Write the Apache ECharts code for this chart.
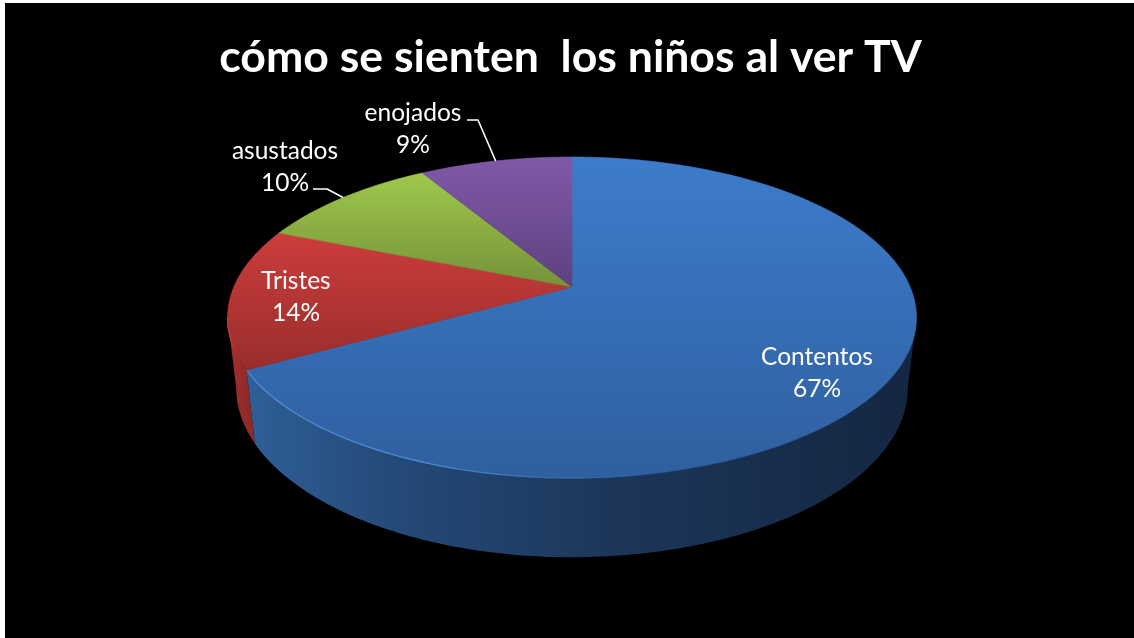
<!DOCTYPE html>
<html><head><meta charset="utf-8">
<style>html,body{margin:0;padding:0;background:#000}#c{width:1134px;height:638px}</style>
<script src="https://cdn.jsdelivr.net/npm/echarts@6/dist/echarts.min.js"></script>
</head><body><div id="c"></div>
<script>
const titleText = 'cómo se sienten  los niños al ver TV';
const categories = ['Contentos', 'Tristes', 'asustados', 'enojados'];
const values = [66.9, 14.2, 10.3, 8.6];

// styling and layout, by category index
const topColors = [['#3d7ccb','#2f5f9f'],['#cc3d3b','#992d2c'],['#9fc84c','#75923a'],['#8059a8','#5e417f']];
const rimColors = ['#4a88d4','#b83c39','#a8d05a','#8a64b2'];
const wallStops = [
  [[0,'#2f5f97'],[0.22,'#244a78'],[0.55,'#1c3659'],[0.85,'#172b49'],[1,'#142640']],
  [[0,'#a22f2d'],[1,'#8a2927']],
  [[0,'#76923a'],[1,'#76923a']],
  [[0,'#5e417f'],[1,'#5e417f']]
];
const labelCenters = [[817,373.5],[296,297.5],[285,167],[413,129.5]];
const leaderStarts = [null,null,[[313,189],[327,189]],[[467,120],[478,120]]];

// perspective view of the pie's two discs
const K = 0.19;
const topDisc = {cx:572, cy:287, rx:338.2, ry:154.7};
const baseDisc = {cx:572, cy:356, rx:329.6, ry:163};
const total = values.reduce((a,b)=>a+b,0);
const startShare = i => values.slice(0,i).reduce((a,b)=>a+b,0)/total;

function project(d, deg){
  const t = deg*Math.PI/180, den = 1 + K*Math.cos(t);
  return [d.cx + d.rx*Math.sin(t)/den, d.cy - d.ry*Math.cos(t)/den];
}
function arc(d, a, b){
  const pts = [], n = Math.max(2, Math.ceil(Math.abs(b-a)));
  for(let i=0;i<=n;i++) pts.push(project(d, a+(b-a)*i/n));
  return pts;
}
const LG = echarts.graphic.LinearGradient;
const visibleFrom = 180 - Math.acos(K)*180/Math.PI, visibleTo = 360 - visibleFrom;

function renderItem(params, api){
  const i = params.dataIndex;
  const a = startShare(i)*360, b = a + api.value(0)/total*360;
  const children = [];
  const wa = Math.max(a, visibleFrom), wb = Math.min(b, visibleTo);
  if(wb > wa){
    children.push({type:'polygon', shape:{points: arc(topDisc,wa,wb).concat(arc(baseDisc,wa,wb).reverse())},
      style:{fill:new LG(0,0,1,0,wallStops[i].map(s=>({offset:s[0],color:s[1]})))}});
  }
  const topFill = () => new LG(0,0,0,1,[{offset:0,color:topColors[i][0]},{offset:1,color:topColors[i][1]}]);
  children.push({type:'polygon', shape:{points:[[topDisc.cx,topDisc.cy]].concat(arc(topDisc,a,b))},
    style:{fill:topFill(), stroke:topFill(), lineWidth:0.6}});
  if(wb > wa){
    children.push({type:'polyline', shape:{points:arc(topDisc,wa,wb)},
      style:{fill:null, lineWidth:1.4, stroke:new LG(1,0,0,0,[{offset:0,color:rimColors[i]+'00'},{offset:0.35,color:rimColors[i]+'00'},{offset:0.75,color:rimColors[i]},{offset:1,color:rimColors[i]}])}});
  }
  if(leaderStarts[i]){
    children.push({type:'polyline', shape:{points:leaderStarts[i].concat([project(topDisc,(a+b)/2)])},
      style:{fill:null, stroke:'#fff', lineWidth:1.6, lineJoin:'round'}});
  }
  children.push({type:'text', x:labelCenters[i][0], y:labelCenters[i][1],
    style:{text:api.value(1)+'\n'+Math.round(api.value(0))+'%', fill:'#fff', font:'24.5px Lato', lineHeight:32, align:'center', verticalAlign:'middle'}});
  return {type:'group', children};
}

const chart = echarts.init(document.getElementById('c'), null, {renderer:'canvas'});
chart.setOption({
  animation:false,
  backgroundColor:'#000',
  title:{text:titleText, left:565.5, top:30, textAlign:'center',
    textStyle:{color:'#fff', fontFamily:'Lato', fontWeight:'bold', fontSize:44.6}},
  graphic:[
    {type:'rect', shape:{x:0,y:0,width:5,height:638}, style:{fill:'#fff'}},
    {type:'rect', shape:{x:0,y:0,width:1134,height:3}, style:{fill:'#fff'}}
  ],
  series:[{type:'custom', coordinateSystem:'none', renderItem,
    data: values.map((v,i)=>[v,categories[i]])}]
});
</script></body></html>
